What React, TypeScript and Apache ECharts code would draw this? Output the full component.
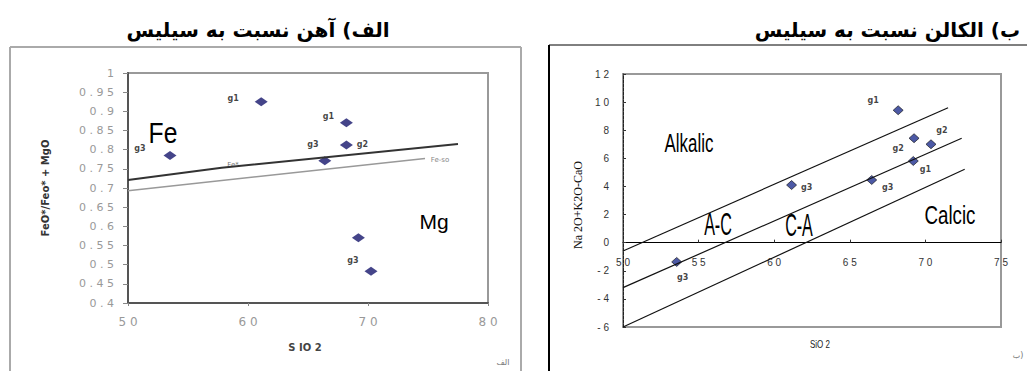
import React, { useEffect, useRef } from "react";
import * as echarts from "echarts";

// ---- Left chart (Fe ratio vs SiO2) ----
const leftSiO2 = [53.5, 61.1, 68.2, 68.2, 66.4, 69.2, 70.25];
const leftFeRatio = [0.785, 0.925, 0.87, 0.812, 0.771, 0.57, 0.483];
const leftLabels = ["g3", "g1", "g1", "g2", "g3", "", "g3"];
const leftLabelOffsets: [number, number][] = [[-30, -7], [-28, -3], [-18, -6], [16, -1], [-12, -16], [0, 0], [-18, -11]];
const feStarX = [50, 57.8, 77.5];
const feStarY = [0.721, 0.753, 0.815];
const feSoX = [50, 74.75];
const feSoY = [0.693, 0.777];

// ---- Right chart (alkali-lime vs SiO2) ----
const rightSiO2 = [68.2, 69.25, 70.37, 69.2, 66.45, 61.15, 53.55];
const rightAlkali = [9.42, 7.43, 7.0, 5.81, 4.46, 4.1, -1.37];
const rightLabels = ["g1", "g2", "g2", "g1", "g3", "g3", "g3"];
const rightLabelOffsets: [number, number][] = [[-25, -10], [-16, 10], [11, -14], [12, 8], [16, 8], [15, 2], [6, 16]];
const upperLineX = [50, 71.5];
const upperLineY = [-0.59, 9.6];
const middleLineX = [50, 72.4];
const middleLineY = [-3.2, 7.43];
const lowerLineX = [50, 72.6];
const lowerLineY = [-6, 5.22];

const spaced = (v: number) => String(v).split("").join(" ");
const zip = (xs: number[], ys: number[]) => xs.map((x, i) => [x, ys[i]]);

const narrow = "'Liberation Sans', Arial, sans-serif";

// right grid geometry
const R_TOP = 74;
const R_H = 253;
const R_YMIN = -6;
const R_YMAX = 12;
const rightXAxisOffset = -(R_H * (0 - R_YMIN)) / (R_YMAX - R_YMIN);

export default function App() {
  const ref = useRef<HTMLDivElement>(null);
  useEffect(() => {
    if (!ref.current) return;
    const chart = echarts.init(ref.current, null, { renderer: "svg" });
    const gLabel = (size: number) => ({
      show: true,
      fontSize: size,
      fontWeight: "bold" as const,
      color: "#111",
      fontFamily: "'DejaVu Sans', sans-serif",
    });
    const txt = (x: number, y: number, text: string, font: string, fill: string, extra: any = {}) => ({
      type: "text", x, y, ...extra,
      style: { text, align: "center", verticalAlign: "middle", font, fill },
    });
    chart.setOption({
      animation: false,
      backgroundColor: "#fff",
      grid: [
        { left: 128, top: 73, width: 360, height: 230, show: true, borderColor: "#999", borderWidth: 2, backgroundColor: "transparent" },
        { left: 623, top: R_TOP, width: 378, height: R_H, show: true, borderColor: "#999", borderWidth: 2, backgroundColor: "transparent" },
      ],
      xAxis: [
        {
          gridIndex: 0, type: "value", min: 50, max: 80, interval: 10,
          axisLine: { show: true, onZero: false, lineStyle: { color: "#555", width: 2 } },
          axisTick: { show: true, length: 3, lineStyle: { color: "#888" } },
          axisLabel: { formatter: spaced, color: "#999", fontSize: 12, margin: 13, fontFamily: "'DejaVu Sans', sans-serif" },
          splitLine: { show: false },
        },
        {
          gridIndex: 1, type: "value", min: 50, max: 75, interval: 5,
          position: "bottom", offset: rightXAxisOffset,
          axisLine: { show: true, onZero: false, lineStyle: { color: "#000", width: 1 } },
          axisTick: { show: true, inside: true, length: 3, lineStyle: { color: "#333" } },
          axisLabel: { formatter: spaced, color: "#333", fontSize: 10, margin: 15, fontFamily: narrow },
          splitLine: { show: false },
        },
      ],
      yAxis: [
        {
          gridIndex: 0, type: "value", min: 0.4, max: 1, interval: 0.05,
          axisLine: { show: true, onZero: false, lineStyle: { color: "#555", width: 2 } },
          axisTick: { show: true, length: 5, lineStyle: { color: "#888" } },
          axisLabel: {
            formatter: (v: number) => spaced(Math.round(v * 100) / 100),
            color: "#999", fontSize: 11, margin: 14, fontFamily: "'DejaVu Sans', sans-serif",
          },
          splitLine: { show: false },
        },
        {
          gridIndex: 1, type: "value", min: R_YMIN, max: R_YMAX, interval: 2,
          axisLine: { show: true, onZero: false, lineStyle: { color: "#222", width: 1, type: [3, 1] } },
          axisTick: { show: true, inside: true, length: 3, lineStyle: { color: "#333" } },
          axisLabel: { formatter: spaced, color: "#333", fontSize: 10, margin: 14, fontFamily: narrow },
          splitLine: { show: false },
        },
      ],
      series: [
        {
          type: "line", xAxisIndex: 0, yAxisIndex: 0, data: zip(feStarX, feStarY),
          showSymbol: false, lineStyle: { color: "#333", width: 2 }, silent: true,
        },
        {
          type: "line", xAxisIndex: 0, yAxisIndex: 0, data: zip(feSoX, feSoY),
          showSymbol: false, lineStyle: { color: "#999", width: 1.5 }, silent: true,
        },
        {
          type: "scatter", xAxisIndex: 0, yAxisIndex: 0, symbol: "diamond", symbolSize: [13, 9],
          itemStyle: { color: "#15156b" },
          data: leftSiO2.map((x, i) => ({
            value: [x, leftFeRatio[i]],
            label: { ...gLabel(8), formatter: leftLabels[i], position: "inside", offset: leftLabelOffsets[i] },
          })),
        },
        ...[
          zip(upperLineX, upperLineY),
          zip(middleLineX, middleLineY),
          zip(lowerLineX, lowerLineY),
        ].map((d) => ({
          type: "line", xAxisIndex: 1, yAxisIndex: 1, data: d,
          showSymbol: false, lineStyle: { color: "#111", width: 1.2 }, silent: true,
        })),
        {
          type: "scatter", xAxisIndex: 1, yAxisIndex: 1, symbol: "diamond", symbolSize: [10, 9],
          itemStyle: { color: "#1f2f8f", borderColor: "#111", borderWidth: 0.8 },
          data: rightSiO2.map((x, i) => ({
            value: [x, rightAlkali[i]],
            label: { ...gLabel(8), formatter: rightLabels[i], position: "inside", offset: rightLabelOffsets[i] },
          })),
        },
      ],
      graphic: [
        // outer frames
        { type: "line", shape: { x1: 10, y1: 47, x2: 521, y2: 47 }, style: { stroke: "#aaa", lineWidth: 2 } },
        { type: "line", shape: { x1: 10, y1: 47, x2: 10, y2: 371 }, style: { stroke: "#aaa", lineWidth: 2 } },
        { type: "line", shape: { x1: 521, y1: 47, x2: 521, y2: 371 }, style: { stroke: "#aaa", lineWidth: 2 } },
        { type: "line", shape: { x1: 549, y1: 45, x2: 1027, y2: 45 }, style: { stroke: "#000", lineWidth: 1 } },
        { type: "line", shape: { x1: 549, y1: 45, x2: 549, y2: 371 }, style: { stroke: "#000", lineWidth: 2 } },
        // titles
        txt(258, 30, "الف) آهن نسبت به سیلیس", "bold 20px 'DejaVu Sans', sans-serif", "#000"),
        { type: "text", x: 1020, y: 30, style: { text: "ب) الکالن نسبت به سیلیس", align: "right", verticalAlign: "middle", font: "bold 20px 'DejaVu Sans', sans-serif", fill: "#000" } },
        // left chart texts
        txt(45, 188, "FeO*/Feo* + MgO", "bold 10px 'DejaVu Sans', sans-serif", "#333", { rotation: Math.PI / 2 }),
        txt(305, 347, "S IO 2", "bold 10px 'DejaVu Sans', sans-serif", "#444"),
        txt(163, 133, "Fe", "29px 'Liberation Sans', Arial, sans-serif", "#000", { scaleX: 0.85 }),
        txt(434, 221, "Mg", "21px 'Liberation Sans', Arial, sans-serif", "#000"),
        txt(233, 165, "Fe*", "7px 'DejaVu Sans', sans-serif", "#777"),
        txt(440, 160, "Fe-so", "7px 'DejaVu Sans', sans-serif", "#888"),
        txt(503, 362, "الف", "8px 'DejaVu Sans', sans-serif", "#777"),
        // right chart texts
        txt(578, 205, "Na 2O+K2O-CaO", "12px 'Liberation Serif', 'DejaVu Serif', serif", "#111", { rotation: Math.PI / 2 }),
        txt(820, 345, "SiO 2", "10px " + narrow, "#222", { scaleX: 0.8 }),
        txt(689, 143, "Alkalic", "26px " + narrow, "#000", { scaleX: 0.65 }),
        txt(718, 224, "A-C", "31px " + narrow, "#000", { scaleX: 0.52 }),
        txt(799, 225, "C-A", "31px " + narrow, "#000", { scaleX: 0.52 }),
        txt(950, 215, "Calcic", "26px " + narrow, "#000", { scaleX: 0.72 }),
        txt(1018, 355, "ب)", "8px 'DejaVu Sans', sans-serif", "#777"),
      ],
    });
    return () => chart.dispose();
  }, []);
  return <div ref={ref} style={{ position: "fixed", left: 0, top: 0, width: 1027, height: 371 }} />;
}
